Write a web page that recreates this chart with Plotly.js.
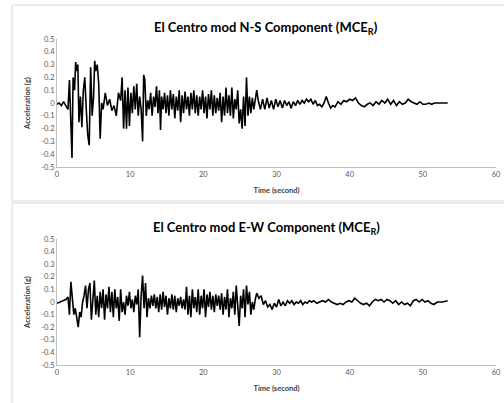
<!DOCTYPE html>
<html>
<head>
<meta charset="utf-8">
<script src="https://cdn.plot.ly/plotly-3.0.1.min.js"></script>
<style>html,body{margin:0;padding:0;background:#fff;}#chart{width:504px;height:403px;}</style>
</head>
<body>
<div id="chart"></div>
<script>
// ---- data ----
var nsTime = [0,0.3,0.6,0.9,1.2,1.5,1.7,1.9,2.05,2.2,2.4,2.55,2.7,2.85,3.0,3.2,3.4,3.6,3.8,4.0,4.2,4.4,4.6,4.8,5.0,5.15,5.3,5.5,5.7,5.9,6.1,6.3,6.6,6.9,7.2,7.5,7.8,8.1,8.4,8.7,8.9,9.1,9.3,9.5,9.7,9.9,10.1,10.3,10.5,10.7,10.9,11.1,11.3,11.5,11.7,11.85,12.0,12.2,12.4,12.6,12.8,13.0,13.2,13.4,13.6,13.8,14.0,14.15,14.3,14.5,14.7,14.9,15.1,15.3,15.5,15.7,15.9,16.1,16.3,16.5,16.7,16.9,17.1,17.3,17.5,17.7,17.9,18.1,18.3,18.5,18.7,18.9,19.1,19.3,19.5,19.7,19.9,20.1,20.3,20.5,20.7,20.9,21.1,21.3,21.5,21.7,21.9,22.1,22.3,22.5,22.7,22.9,23.1,23.3,23.5,23.7,23.9,24.1,24.3,24.5,24.7,24.9,25.1,25.3,25.5,25.7,25.9,26.1,26.3,26.5,26.7,26.9,27.1,27.3,27.5,27.8,28.1,28.4,28.7,29.0,29.3,29.6,29.9,30.2,30.5,30.8,31.1,31.4,31.7,32.0,32.3,32.6,32.9,33.2,33.5,33.8,34.1,34.4,34.7,35.0,35.3,35.6,35.9,36.2,36.5,36.8,37.1,37.4,37.7,38.0,38.4,38.8,39.2,39.6,40.0,40.4,40.8,41.2,41.6,42.0,42.4,42.8,43.2,43.6,44.0,44.4,44.8,45.2,45.6,46.0,46.4,46.8,47.2,47.6,48.0,48.4,48.8,49.2,49.6,50.0,50.4,50.8,51.2,51.6,52.0,52.5,53.0,53.4];
var nsAccel = [-0.01,0.0,-0.02,0.01,-0.02,-0.05,0.18,-0.1,-0.43,0.2,0.1,0.32,0.25,0.3,-0.15,0.05,-0.19,0.1,0.2,-0.05,-0.25,-0.33,0.28,-0.1,0.05,0.33,0.25,0.3,0.15,-0.28,0.0,-0.05,0.08,-0.02,0.03,-0.06,-0.02,-0.1,0.08,0.02,0.2,-0.2,0.1,-0.2,0.12,-0.18,0.08,-0.08,0.13,-0.05,0.15,-0.1,0.05,-0.05,-0.3,0.22,0.18,-0.1,0.02,-0.05,0.08,-0.1,0.05,-0.03,0.13,-0.08,0.1,-0.21,0.05,-0.05,0.08,-0.08,0.06,-0.1,0.1,-0.05,0.07,-0.12,0.05,-0.06,0.1,-0.15,0.06,-0.08,0.09,-0.05,0.05,-0.1,0.08,-0.05,0.1,-0.08,0.06,-0.1,0.05,-0.05,0.1,-0.08,0.05,-0.12,0.07,-0.05,0.1,-0.1,0.06,-0.08,0.04,-0.06,0.08,-0.15,0.05,-0.1,0.12,-0.08,0.06,-0.1,0.12,-0.12,0.03,-0.05,0.1,-0.16,-0.05,-0.2,0.05,-0.18,0.2,-0.1,0.05,-0.08,0.04,-0.05,0.02,0.1,0.02,-0.05,0.03,-0.05,0.04,-0.04,0.02,-0.05,0.03,-0.03,0.02,-0.04,0.02,-0.02,0.01,-0.04,0.01,-0.02,0.02,-0.01,0.02,0.0,0.03,0.01,0.03,-0.01,0.02,-0.02,-0.01,-0.03,0.0,0.05,0.0,-0.04,-0.02,-0.03,0.01,-0.01,0.02,0.01,0.03,0.02,0.04,0.0,-0.02,-0.03,-0.01,0.0,-0.02,0.01,-0.01,0.02,0.0,0.03,-0.01,0.02,-0.02,0.01,-0.01,0.0,0.03,0.01,0.0,-0.01,0.01,-0.01,-0.01,0.0,-0.01,0.0,0.0,0.0,0.0,0.0];

var ewTime = [0,0.4,0.8,1.2,1.5,1.7,1.9,2.1,2.3,2.5,2.7,2.9,3.1,3.3,3.5,3.7,3.9,4.1,4.3,4.5,4.7,4.9,5.1,5.3,5.5,5.7,5.9,6.1,6.3,6.5,6.7,6.9,7.1,7.3,7.5,7.7,7.9,8.1,8.3,8.5,8.7,8.9,9.1,9.3,9.5,9.7,9.9,10.1,10.3,10.5,10.7,10.9,11.1,11.3,11.5,11.7,11.9,12.1,12.3,12.5,12.7,12.9,13.1,13.3,13.5,13.7,13.9,14.1,14.3,14.5,14.7,14.9,15.1,15.3,15.5,15.7,15.9,16.1,16.3,16.5,16.7,16.9,17.1,17.3,17.5,17.7,17.9,18.1,18.3,18.5,18.7,18.9,19.1,19.3,19.5,19.7,19.9,20.1,20.3,20.5,20.7,20.9,21.1,21.3,21.5,21.7,21.9,22.1,22.3,22.5,22.7,22.9,23.1,23.3,23.5,23.7,23.9,24.1,24.3,24.5,24.7,24.9,25.1,25.3,25.5,25.7,25.9,26.1,26.3,26.5,26.7,26.9,27.1,27.3,27.6,27.9,28.2,28.5,28.8,29.1,29.4,29.7,30.0,30.3,30.6,30.9,31.2,31.5,31.8,32.1,32.4,32.7,33.0,33.3,33.6,33.9,34.2,34.5,34.8,35.1,35.5,35.9,36.3,36.7,37.1,37.5,37.9,38.3,38.7,39.1,39.5,39.9,40.3,40.7,41.1,41.5,41.9,42.3,42.7,43.1,43.5,43.9,44.3,44.7,45.1,45.5,45.9,46.3,46.7,47.1,47.5,47.9,48.3,48.7,49.1,49.5,49.9,50.3,50.7,51.1,51.5,52.0,52.7,53.4];
var ewAccel = [-0.01,0.0,0.01,0.02,0.04,-0.1,0.16,0.05,-0.1,-0.05,-0.12,-0.2,-0.08,-0.12,0.0,0.05,0.13,-0.05,0.1,0.15,-0.14,0.02,0.17,-0.1,0.05,-0.12,0.08,-0.05,0.1,-0.14,0.06,-0.05,0.12,-0.08,0.08,-0.12,0.1,-0.05,0.04,-0.15,0.1,-0.08,0.0,-0.1,0.05,-0.03,0.08,-0.05,0.02,-0.08,0.05,-0.02,0.1,-0.28,0.05,0.21,-0.05,0.15,-0.12,0.03,-0.05,0.05,-0.03,0.06,-0.05,0.04,-0.08,0.06,-0.06,0.08,-0.04,0.05,-0.1,0.03,-0.05,0.06,-0.06,0.05,-0.08,0.03,-0.03,0.04,-0.05,0.02,-0.06,0.12,-0.1,0.05,-0.12,0.1,-0.05,0.04,-0.08,0.1,-0.1,0.05,-0.05,0.1,-0.12,0.06,-0.04,0.08,-0.06,0.05,-0.08,0.06,-0.03,0.05,-0.06,0.07,-0.1,0.04,-0.06,0.1,-0.12,0.03,-0.05,0.08,-0.1,0.13,-0.08,-0.19,0.05,-0.05,0.1,-0.12,0.13,-0.02,0.08,-0.1,0.0,-0.06,0.02,0.07,0.03,0.05,-0.02,0.01,-0.04,-0.02,-0.06,-0.01,-0.04,0.02,-0.03,0.0,-0.03,0.01,-0.01,0.01,-0.02,0.0,-0.01,0.01,-0.02,0.0,-0.01,0.01,0.0,0.01,-0.01,0.0,0.01,0.0,0.02,0.0,-0.01,-0.02,-0.01,-0.02,0.0,0.01,0.0,0.03,0.01,-0.01,-0.02,-0.01,-0.03,0.0,0.02,0.01,0.02,0.0,0.02,0.01,-0.01,0.01,-0.02,0.0,-0.02,-0.01,-0.03,0.01,0.02,0.0,0.02,0.0,0.01,-0.01,-0.02,0.0,0.0,0.01];

var xTickVals = [0,10,20,30,40,50,60];
var yTickVals = [0.5,0.4,0.3,0.2,0.1,0,-0.1,-0.2,-0.3,-0.4,-0.5];
var yTickText = ['0.5','0.4','0.3','0.2','0.1','0','-0.1','-0.2','-0.3','-0.4','-0.5'];
var titles = ['El Centro mod N-S Component (MCE<sub>R</sub>)', 'El Centro mod E-W Component (MCE<sub>R</sub>)'];
var xTitle = 'Time (second)';
var yTitle = 'Acceleration (g)';

// ---- chart ----
var W = 504, H = 403;
var FONT = 'Lato, "Open Sans", sans-serif';
var tickFont = {family: FONT, size: 7.5, color: '#595959'};
var axTitleFont = {family: FONT, size: 7.5, color: '#404040'};

function xAxis(anchor) {
  return {
    anchor: anchor, domain: [57/W, 496/W], range: [0, 60],
    tickmode: 'array', tickvals: xTickVals, ticktext: xTickVals.map(String),
    showgrid: false, zeroline: false, showline: true, linecolor: '#bfbfbf', linewidth: 1,
    ticks: '', tickfont: tickFont,
    title: {text: '<b>' + xTitle + '</b>', font: axTitleFont, standoff: 9}
  };
}
function yAxis(anchor, top, bottom) {
  return {
    anchor: anchor, domain: [1 - bottom/H, 1 - top/H], range: [-0.5, 0.5],
    tickmode: 'array', tickvals: yTickVals, ticktext: yTickText,
    showgrid: false, zeroline: false, showline: true, linecolor: '#bfbfbf', linewidth: 1,
    ticks: '', tickfont: tickFont,
    title: {text: '<b>' + yTitle + '</b>', font: axTitleFont, standoff: 9}
  };
}

var traces = [
  {x: nsTime, y: nsAccel, xaxis: 'x', yaxis: 'y', type: 'scatter', mode: 'lines',
   line: {color: '#000000', width: 1.6}, hoverinfo: 'skip'},
  {x: ewTime, y: ewAccel, xaxis: 'x2', yaxis: 'y2', type: 'scatter', mode: 'lines',
   line: {color: '#000000', width: 1.6}, hoverinfo: 'skip'}
];

var layout = {
  width: W, height: H, margin: {l: 0, r: 0, t: 0, b: 0},
  paper_bgcolor: '#ffffff', plot_bgcolor: 'rgba(0,0,0,0)', showlegend: false,
  xaxis: xAxis('y'), yaxis: yAxis('x', 39, 167),
  xaxis2: xAxis('y2'), yaxis2: yAxis('x2', 239, 365),
  shapes: [
    {type: 'rect', xref: 'paper', yref: 'paper', x0: 12/W, x1: 520/W, y0: 1 - 201/H, y1: 1 - 5/H,
     line: {color: '#d9d9d9', width: 1}, fillcolor: 'rgba(0,0,0,0)', layer: 'below'},
    {type: 'rect', xref: 'paper', yref: 'paper', x0: 12/W, x1: 520/W, y0: -0.05, y1: 1 - 203/H,
     line: {color: '#d9d9d9', width: 1}, fillcolor: 'rgba(0,0,0,0)', layer: 'below'}
  ],
  annotations: [
    {text: '<b>' + titles[0] + '</b>', xref: 'paper', yref: 'paper', x: 266/W, y: 1 - 28/H,
     xanchor: 'center', yanchor: 'middle', showarrow: false,
     font: {family: FONT, size: 13, color: '#000000'}},
    {text: '<b>' + titles[1] + '</b>', xref: 'paper', yref: 'paper', x: 266/W, y: 1 - 228/H,
     xanchor: 'center', yanchor: 'middle', showarrow: false,
     font: {family: FONT, size: 13, color: '#000000'}}
  ]
};

Plotly.newPlot('chart', traces, layout, {staticPlot: true, displayModeBar: false});
</script>
</body>
</html>
